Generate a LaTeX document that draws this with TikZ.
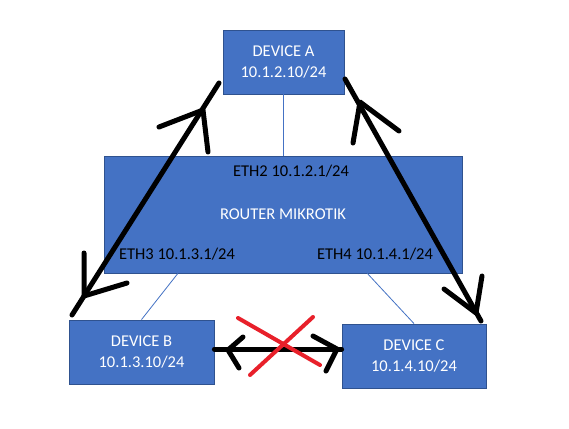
\documentclass[tikz,border=0pt]{standalone}
\usepackage{fontspec}
\setmainfont{Carlito}
\usepackage{xcolor}
\definecolor{cBox}{HTML}{4472C4}
\definecolor{cEdge}{HTML}{2F528F}
\definecolor{cLink}{HTML}{4472C4}
\definecolor{cPen}{HTML}{000000}
\definecolor{cCross}{HTML}{E8202A}
\usepackage{tikz}
\usetikzlibrary{positioning,calc}
\tikzset{
  node-box/.style={draw=cEdge,line width=0.8pt,fill=cBox,text=white,
    inner sep=0pt,align=center,font=\fontsize{16.5}{20.5}\selectfont},
  node-port/.style={text=black,inner sep=0pt,font=\fontsize{16.5}{20}\selectfont},
  link/.style={draw=cLink,line width=0.8pt},
  pen/.style={draw=cPen,line width=5pt,line cap=round,line join=round},
  cross/.style={draw=cCross,line width=4pt,line cap=round},
}

\begin{document}
\begin{tikzpicture}[x=1pt,y=-1pt]
  \useasboundingbox[fill=white] (0,0) rectangle (569,428);

  % Geraete und Router
  \node[node-box,minimum width=121,minimum height=64] (devA) at (283.5,62)
    {DEVICE A\\10.1.2.10/24};
  \node[node-box,minimum width=358,minimum height=117] (router) at (283,214.5)
    {ROUTER MIKROTIK};
  \node[node-box,minimum width=145,minimum height=64] (devB) at (141.5,352)
    {DEVICE B\\10.1.3.10/24};
  \node[node-box,minimum width=144,minimum height=64] (devC) at (414,356)
    {DEVICE C\\10.1.4.10/24};

  % Schnittstellen
  \node[node-port] (eth2) at (291,171) {ETH2 10.1.2.1/24};
  \node[node-port] (eth3) at (177,254) {ETH3 10.1.3.1/24};
  \node[node-port] (eth4) at (375,254) {ETH4 10.1.4.1/24};

  % Kabel
  \draw[link] (devA.south) -- (devA.south |- router.north);
  \draw[link] ($(router.south west)!0.207!(router.south east)$) -- (devB.north);
  \draw[link] ($(router.south west)!0.735!(router.south east)$) -- (devC.north);

  % Handskizze: A <-> B
  \coordinate (ab-top) at (219,83);
  \coordinate (ab-bot) at (72,315);
  \draw[pen] (ab-top) -- (ab-bot);
  \draw[pen] (159,127) -- (203,110) -- (208,152);
  \draw[pen] (84,253) -- (84,296) -- (127,283);

  % Handskizze: A <-> C
  \coordinate (ac-top) at (345,79);
  \coordinate (ac-bot) at (481,321);
  \draw[pen] (ac-top) -- (ac-bot);
  \draw[pen] (399,131) -- (360,102) -- (353,143);
  \draw[pen] (444,289) -- (476,313) -- (482,276);

  % Handskizze: B <-> C (gesperrt)
  \draw[pen] (devB.east |- 0,349) -- (devC.west |- 0,349);
  \draw[pen] (243,337) -- (228,350) -- (239,368);
  \draw[pen] (313,336) -- (337,349) -- (326,371);
  \draw[cross] (238,318) -- (320,365);
  \draw[cross] (313,317) -- (250,375);
\end{tikzpicture}
\end{document}
